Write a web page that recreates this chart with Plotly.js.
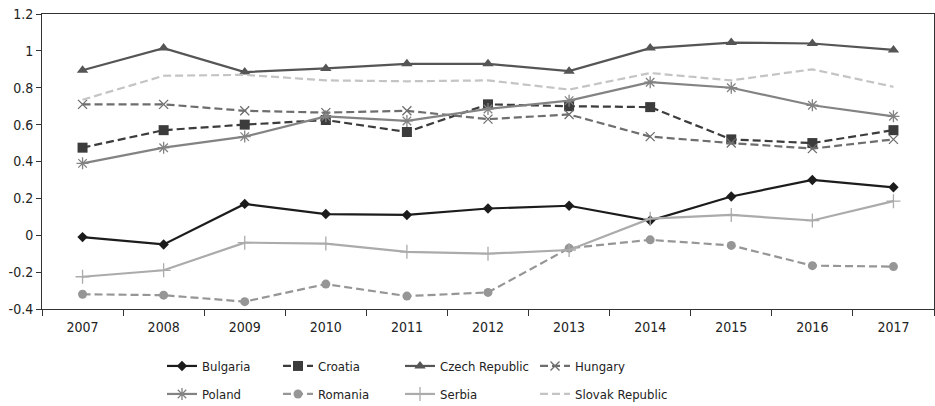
<!DOCTYPE html>
<html>
<head>
<meta charset="utf-8">
<script src="https://cdn.plot.ly/plotly-3.0.1.min.js"></script>
<style>
html,body{margin:0;padding:0;background:#fff;}
#chart{width:935px;height:406px;}
#chart text{font-stretch:condensed !important;}
</style>
</head>
<body>
<div id="chart"></div>
<script>
// ---- data ----
var years = ['2007','2008','2009','2010','2011','2012','2013','2014','2015','2016','2017'];
var bulgaria = [-0.01, -0.05, 0.17, 0.115, 0.11, 0.145, 0.16, 0.08, 0.21, 0.30, 0.26];
var croatia  = [0.475, 0.57, 0.60, 0.625, 0.56, 0.71, 0.70, 0.695, 0.52, 0.50, 0.57];
var czech    = [0.895, 1.015, 0.885, 0.905, 0.93, 0.93, 0.89, 1.015, 1.045, 1.04, 1.005];
var hungary  = [0.71, 0.71, 0.675, 0.665, 0.675, 0.63, 0.655, 0.535, 0.50, 0.47, 0.52];
var poland   = [0.39, 0.475, 0.535, 0.645, 0.62, 0.685, 0.73, 0.83, 0.80, 0.705, 0.645];
var romania  = [-0.32, -0.325, -0.36, -0.265, -0.33, -0.31, -0.07, -0.025, -0.055, -0.165, -0.17];
var serbia   = [-0.225, -0.19, -0.04, -0.045, -0.09, -0.10, -0.08, 0.09, 0.11, 0.08, 0.185];
var slovak   = [0.735, 0.865, 0.87, 0.84, 0.835, 0.84, 0.79, 0.88, 0.84, 0.90, 0.805];
var yTickVals = [-0.4, -0.2, 0, 0.2, 0.4, 0.6, 0.8, 1, 1.2];
var yTickText = ['-0.4', '-0.2', '0', '0.2', '0.4', '0.6', '0.8', '1', '1.2'];

var FONT = '"DejaVu Sans Condensed", "DejaVu Sans", sans-serif';

function tr(name, y, color, dash, symbol, size, legend) {
  var t = {
    type: 'scatter', mode: symbol ? 'lines+markers' : 'lines',
    x: years, y: y, name: name, legend: legend,
    line: {color: color, width: 2.2, dash: dash},
    hoverinfo: 'skip'
  };
  if (symbol) {
    var open = /open/.test(symbol);
    t.marker = {symbol: symbol, size: size, color: color,
      line: {color: color, width: open ? 1.3 : 0}};
  }
  return t;
}

var traces = [
  tr('Bulgaria', bulgaria, '#1c1c1c', 'solid', 'diamond', 8, 'legend'),
  tr('Croatia', croatia, '#3c3c3c', '8px,4px', 'square', 10, 'legend2'),
  tr('Czech Republic', czech, '#555555', 'solid', 'triangle-up', 10, 'legend3'),
  tr('Hungary', hungary, '#6e6e6e', '8px,4px', 'x-thin-open', 9, 'legend4'),
  tr('Poland', poland, '#838383', 'solid', 'asterisk-open', 10, 'legend5'),
  tr('Romania', romania, '#969696', '8px,4px', 'circle', 9, 'legend6'),
  tr('Serbia', serbia, '#ababab', 'solid', 'cross-thin-open', 10, 'legend7'),
  tr('Slovak Republic', slovak, '#c4c4c4', '8px,4px', null, 0, 'legend8')
];

function lg(px, py) {
  return {xref: 'container', yref: 'container', x: px / 935, y: 1 - py / 406,
    xanchor: 'left', yanchor: 'middle', orientation: 'v', bgcolor: 'rgba(0,0,0,0)',
    borderwidth: 0, font: {family: FONT, size: 13, color: '#222'}};
}
var cols = [162, 278, 400, 535];
var rows = [366, 394];

var layout = {
  width: 935, height: 406,
  margin: {l: 42, r: 1, t: 14, b: 97, autoexpand: false},
  paper_bgcolor: '#fff', plot_bgcolor: '#fff',
  font: {family: FONT, size: 14, color: '#222'},
  showlegend: true,
  xaxis: {
    type: 'category', range: [-0.5, 10.5], tickson: 'boundaries',
    showgrid: false, zeroline: false, showline: true, mirror: true,
    linecolor: '#333', linewidth: 1, ticks: 'outside', ticklen: 6, tickcolor: '#333',
    ticklabelstandoff: 5,
    tickfont: {family: FONT, size: 14, color: '#222'}
  },
  yaxis: {
    range: [-0.4, 1.2], tickvals: yTickVals, ticktext: yTickText,
    showgrid: false, zeroline: false, showline: true, mirror: true,
    linecolor: '#333', linewidth: 1, ticks: 'outside', ticklen: 5, tickcolor: '#333',
    tickfont: {family: FONT, size: 14, color: '#222'}
  },
  legend: lg(cols[0], rows[0]),
  legend2: lg(cols[1], rows[0]),
  legend3: lg(cols[2], rows[0]),
  legend4: lg(cols[3], rows[0]),
  legend5: lg(cols[0], rows[1]),
  legend6: lg(cols[1], rows[1]),
  legend7: lg(cols[2], rows[1]),
  legend8: lg(cols[3], rows[1])
};

Plotly.newPlot('chart', traces, layout, {staticPlot: true, displayModeBar: false});
</script>
</body>
</html>
